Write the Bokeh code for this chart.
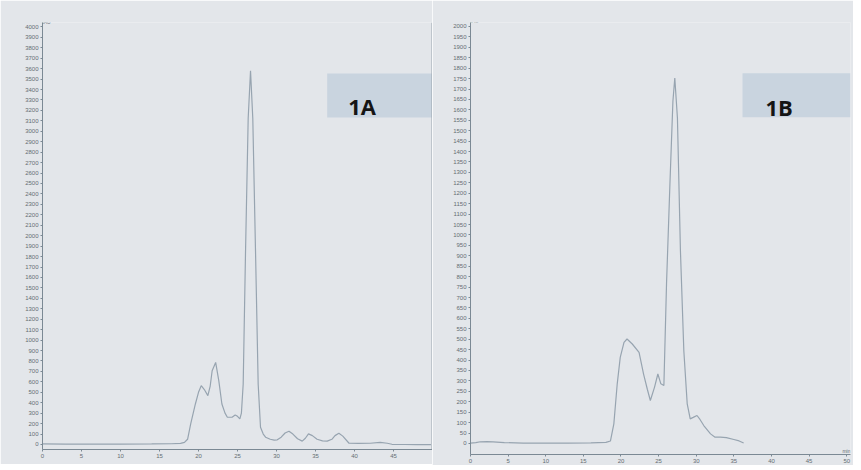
from bokeh.plotting import figure
from bokeh.layouts import row
from bokeh.models import Range1d, FixedTicker, BoxAnnotation, Label, Span
from bokeh.embed import file_html
from bokeh.resources import INLINE

# ---------------- data ----------------
# Panel 1A: retention time (min) and signal (mAU)
time_a = [0, 3, 6, 10, 14, 16.5, 17.7, 18.2, 18.6, 19.0, 19.6, 20.0, 20.35, 20.8,
          21.2, 21.5, 21.75, 22.2, 22.6, 23.0, 23.4, 23.7, 24.3, 24.7, 25.0, 25.3,
          25.5, 25.73, 26.03, 26.37, 26.67, 26.96, 27.31, 27.65, 27.95, 28.3, 28.6,
          29.2, 29.7, 30.1, 30.6, 31.1, 31.6, 32.1, 32.7, 33.3, 33.7, 34.1, 34.6,
          35.2, 35.9, 36.5, 37.1, 37.5, 38.0, 38.5, 39.3, 40.5, 42.0, 43.3, 44.2,
          44.8, 46.5, 48.0, 49.8]
signal_a = [5, 4, 3, 3, 5, 7, 10, 20, 50, 197, 388, 500, 563, 520,
            468, 560, 706, 786, 611, 388, 300, 261, 261, 283, 270, 245,
            300, 579, 1852, 3125, 3580, 3125, 1852, 579, 166, 100, 70,
            50, 42, 45, 70, 110, 127, 100, 55, 32, 60, 102, 85,
            50, 35, 32, 50, 85, 108, 80, 12, 10, 12, 20, 12,
            2, 0, -2, -2]

# Panel 1B
time_b = [0, 0.7, 1.3, 2.2, 3.0, 4.5, 7, 10, 13, 16, 18.0, 18.6, 19.05, 19.5,
          19.9, 20.4, 20.8, 21.5, 22.4, 23.0, 23.5, 23.9, 24.45, 24.9, 25.3, 25.7,
          26.05, 26.5, 26.9, 27.15, 27.5, 27.9, 28.35, 28.8, 29.2, 29.6, 30.1,
          30.5, 31.0, 31.9, 32.5, 33.2, 34.0, 35.0, 35.7, 36.3]
signal_b = [2, 4, 8, 9, 8, 4, 2, 2, 2, 3, 5, 12, 94, 286,
            413, 485, 501, 477, 437, 333, 260, 206, 269, 333, 286, 278,
            765, 1242, 1641, 1753, 1561, 923, 445, 190, 118, 125, 134,
            115, 86, 46, 30, 30, 28, 19, 12, 2]

x_ticks_a = [0, 5, 10, 15, 20, 25, 30, 35, 40, 45]
y_ticks_a = list(range(0, 4001, 100))
x_ticks_b = [0, 5, 10, 15, 20, 25, 30, 35, 40, 45, 50]
y_ticks_b = list(range(0, 2001, 50))

label_a = "1A"
label_b = "1B"
y_unit = "mAU"
x_unit = "min"

# ---------------- style ----------------
PANEL = "#e3e6ea"
TRACE = "#97a4b0"
AXIS = "#7b8994"
TICKTXT = "#666d73"
BOXC = "#c9d4df"
SEP = "#9aa3ad"


def style(p, xt, yt):
    p.xgrid.visible = False
    p.ygrid.visible = False
    p.outline_line_color = None
    p.background_fill_color = PANEL
    p.border_fill_color = PANEL
    for ax in (p.xaxis[0], p.yaxis[0]):
        ax.axis_line_color = AXIS
        ax.axis_line_width = 1
        ax.major_tick_line_color = AXIS
        ax.major_tick_out = 2
        ax.major_tick_in = 0
        ax.minor_tick_line_color = None
        ax.major_label_text_font_size = "6px"
        ax.major_label_text_color = TICKTXT
        ax.major_label_text_font = "Liberation Sans"
        ax.major_label_standoff = 2
    p.xaxis[0].ticker = FixedTicker(ticks=xt)
    p.yaxis[0].ticker = FixedTicker(ticks=yt)


# ---------------- panel A ----------------
xa_end = 50.0
pA = figure(frame_width=390, frame_height=427, output_backend="svg",
            toolbar_location=None, x_range=Range1d(0, xa_end),
            y_range=Range1d(-48, 4042),
            min_border_left=42, min_border_right=0,
            min_border_top=22, min_border_bottom=15)
style(pA, x_ticks_a, y_ticks_a)
pA.line(time_a, signal_a, line_color=TRACE, line_width=1.2)
pA.add_layout(BoxAnnotation(left=36.5, bottom=3132, top=3554,
                            fill_color=BOXC, fill_alpha=1, line_color=None))
pA.add_layout(Label(x=39.2, y=3240, text=label_a, text_font="Open Sans",
                    text_font_style="bold", text_font_size="22px",
                    text_color="#151515", text_baseline="alphabetic"))
pA.add_layout(Label(x=0, y=4000, text=y_unit, text_font_size="5px",
                    text_color=TICKTXT, text_baseline="bottom", y_offset=2,
                    x_offset=-3))
pA.add_layout(Span(location=xa_end, dimension="height", line_color=SEP,
                   line_width=2))

# ---------------- panel B ----------------
pB = figure(frame_width=380, frame_height=432, output_backend="svg",
            toolbar_location=None, x_range=Range1d(0, 50.5),
            y_range=Range1d(-53, 2019),
            min_border_left=38, min_border_right=3,
            min_border_top=22, min_border_bottom=10)
style(pB, x_ticks_b, y_ticks_b)
pB.line(time_b, signal_b, line_color=TRACE, line_width=1.2)
pB.add_layout(BoxAnnotation(left=36.15, bottom=1564, top=1775,
                            fill_color=BOXC, fill_alpha=1, line_color=None))
pB.add_layout(Label(x=39.2, y=1613, text=label_b, text_font="Open Sans",
                    text_font_style="bold", text_font_size="22px",
                    text_color="#151515", text_baseline="alphabetic"))
pB.add_layout(Label(x=0, y=2000, text=y_unit, text_font_size="5px",
                    text_color=TICKTXT, text_baseline="bottom", y_offset=2,
                    x_offset=-3))
pB.add_layout(Label(x=50.5, y=-53, text=x_unit, text_font_size="5px",
                    text_color=TICKTXT, text_baseline="bottom",
                    text_align="right", y_offset=1))

layout = row(pA, pB, spacing=0)

open("out.html", "w").write(file_html(layout, INLINE))
